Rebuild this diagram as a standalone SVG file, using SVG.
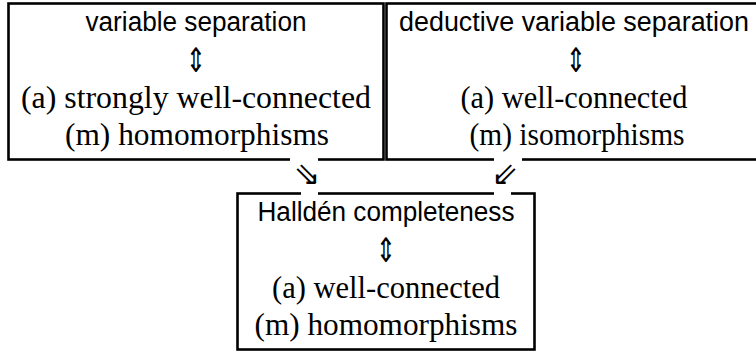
<svg xmlns="http://www.w3.org/2000/svg" width="756" height="352" viewBox="0 0 756 352">
<style>
.box{fill:none;stroke:#000;stroke-width:2.6}
.gap{fill:#fff;stroke:none}
.sans{font-family:"Liberation Sans",Arial,sans-serif;font-size:27px;text-anchor:middle;fill:#000}
.serif{font-family:"Liberation Serif","Times New Roman",serif;font-size:32px;text-anchor:middle;fill:#000}
.sym{font-family:"DejaVu Sans",sans-serif;font-size:28px;text-anchor:middle;fill:#000}
.arr{font-family:"DejaVu Sans",sans-serif;font-size:32px;text-anchor:middle;fill:#000}
</style>
<rect width="756" height="352" fill="#fff"/>
<g id="node-variable-separation">
<rect class="box" x="8.5" y="3.5" width="375" height="156"/>
<text class="sans" x="196" y="31" textLength="221" lengthAdjust="spacingAndGlyphs">variable separation</text>
<text class="sym" transform="translate(196,71.5) scale(0.85,1.2)">⇕</text>
<text class="serif" x="196" y="108" textLength="350" lengthAdjust="spacingAndGlyphs">(a) strongly well-connected</text>
<text class="serif" x="197" y="145" textLength="264" lengthAdjust="spacingAndGlyphs">(m) homomorphisms</text>
</g>
<g id="node-deductive-variable-separation">
<rect class="box" x="386.5" y="3.5" width="380" height="156"/>
<text class="sans" x="574" y="31" textLength="350" lengthAdjust="spacingAndGlyphs">deductive variable separation</text>
<text class="sym" transform="translate(576,71.5) scale(0.85,1.2)">⇕</text>
<text class="serif" x="574" y="108" textLength="227" lengthAdjust="spacingAndGlyphs">(a) well-connected</text>
<text class="serif" x="577" y="145" textLength="215" lengthAdjust="spacingAndGlyphs">(m) isomorphisms</text>
</g>
<g id="node-hallden-completeness">
<rect class="box" x="237.5" y="193.5" width="297" height="156"/>
<text class="sans" x="386" y="221" textLength="257" lengthAdjust="spacingAndGlyphs">Halldén completeness</text>
<text class="sym" transform="translate(386,261.5) scale(0.85,1.2)">⇕</text>
<text class="serif" x="386" y="298" textLength="228" lengthAdjust="spacingAndGlyphs">(a) well-connected</text>
<text class="serif" x="386" y="335" textLength="263" lengthAdjust="spacingAndGlyphs">(m) homomorphisms</text>
</g>
<g id="connectors">
<rect class="gap" x="290" y="156" width="28" height="8"/>
<rect class="gap" x="301" y="189" width="17" height="8"/>
<rect class="gap" x="494" y="156" width="28" height="8"/>
<rect class="gap" x="494" y="189" width="17" height="8"/>
<text class="arr" x="307" y="185">⇘</text>
<text class="arr" x="505" y="185">⇙</text>
</g>
</svg>
